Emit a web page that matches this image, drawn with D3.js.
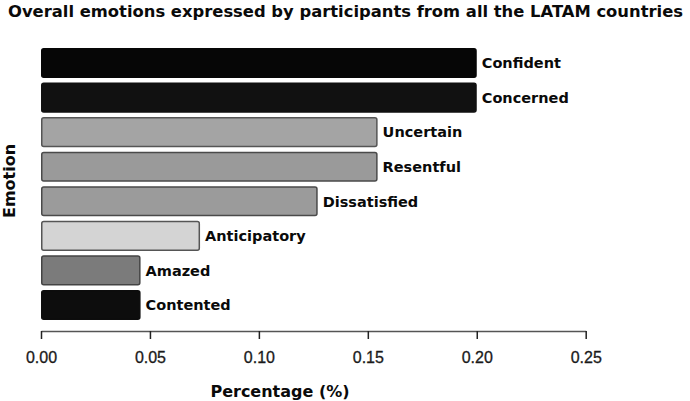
<!DOCTYPE html>
<html>
<head>
<meta charset="utf-8">
<script src="https://cdn.jsdelivr.net/npm/d3@7"></script>
<style>
  html, body { margin: 0; padding: 0; background: #fff; }
  svg { display: block; }
</style>
</head>
<body>
<svg id="chart" width="690" height="401"></svg>
<script>
const categories = ["Confident", "Concerned", "Uncertain", "Resentful", "Dissatisfied", "Anticipatory", "Amazed", "Contented"];
const values = [0.200, 0.200, 0.1545, 0.1545, 0.127, 0.073, 0.0457, 0.0457];
const fills = ["#060606", "#111111", "#a4a4a4", "#9a9a9a", "#9b9b9b", "#d4d4d4", "#7b7b7b", "#0d0d0d"];
const strokes = ["#060606", "#111111", "#555555", "#4a4a4a", "#4a4a4a", "#555555", "#444444", "#0d0d0d"];
const xTicks = [0, 0.05, 0.10, 0.15, 0.20, 0.25];

const svg = d3.select("#chart");
const x = d3.scaleLinear().domain([0, 0.25]).range([41, 585.7]);
const y = d3.scaleBand().domain(categories).range([48, 320]).paddingInner(0.13).paddingOuter(0);

const data = categories.map((c, i) => ({ c, v: values[i], fill: fills[i], stroke: strokes[i] }));

// title
svg.append("text")
  .attr("x", 8).attr("y", 17)
  .attr("font-family", "DejaVu Sans, sans-serif")
  .attr("font-weight", "bold")
  .attr("font-size", 15)
  .attr("textLength", 675)
  .attr("lengthAdjust", "spacingAndGlyphs")
  .attr("fill", "#0a0a0a")
  .text("Overall emotions expressed by participants from all the LATAM countries");

// bars
svg.append("g").selectAll("rect").data(data).join("rect")
  .attr("x", x(0) + 0.75)
  .attr("y", d => y(d.c) + 0.75)
  .attr("width", d => x(d.v) - x(0) - 1.5)
  .attr("height", y.bandwidth() - 1.5)
  .attr("rx", 2).attr("ry", 2)
  .attr("fill", d => d.fill)
  .attr("stroke", d => d.stroke)
  .attr("stroke-width", 1.5);

// bar labels
svg.append("g").selectAll("text").data(data).join("text")
  .attr("x", d => x(d.v) + 5)
  .attr("y", d => y(d.c) + y.bandwidth() / 2)
  .attr("dy", "0.36em")
  .attr("font-family", "DejaVu Sans, sans-serif")
  .attr("font-weight", "bold")
  .attr("font-size", 14.5)
  .attr("fill", "#0a0a0a")
  .text(d => d.c);

// x axis
const xAxis = d3.axisBottom(x).tickValues(xTicks).tickFormat(d3.format(".2f")).tickSize(8).tickSizeOuter(0);
const gx = svg.append("g").attr("transform", "translate(0,331)").call(xAxis);
gx.select(".domain").attr("stroke", "#555").attr("stroke-width", 1.3);
gx.selectAll(".tick line").attr("stroke", "#222").attr("stroke-width", 1.5);
gx.selectAll(".tick text")
  .attr("font-family", "Liberation Sans, Arial, sans-serif")
  .attr("font-size", 16)
  .attr("fill", "#1a1a1a")
  .attr("stroke", "#1a1a1a")
  .attr("stroke-width", 0.3)
  .attr("y", 21);

// axis titles
svg.append("text")
  .attr("x", 280).attr("y", 397)
  .attr("text-anchor", "middle")
  .attr("font-family", "DejaVu Sans, sans-serif")
  .attr("font-weight", "bold")
  .attr("font-size", 16)
  .attr("fill", "#0a0a0a")
  .text("Percentage (%)");

svg.append("text")
  .attr("transform", "translate(15,181) rotate(-90)")
  .attr("text-anchor", "middle")
  .attr("font-family", "DejaVu Sans, sans-serif")
  .attr("font-weight", "bold")
  .attr("font-size", 16)
  .attr("fill", "#0a0a0a")
  .text("Emotion");
</script>
</body>
</html>
